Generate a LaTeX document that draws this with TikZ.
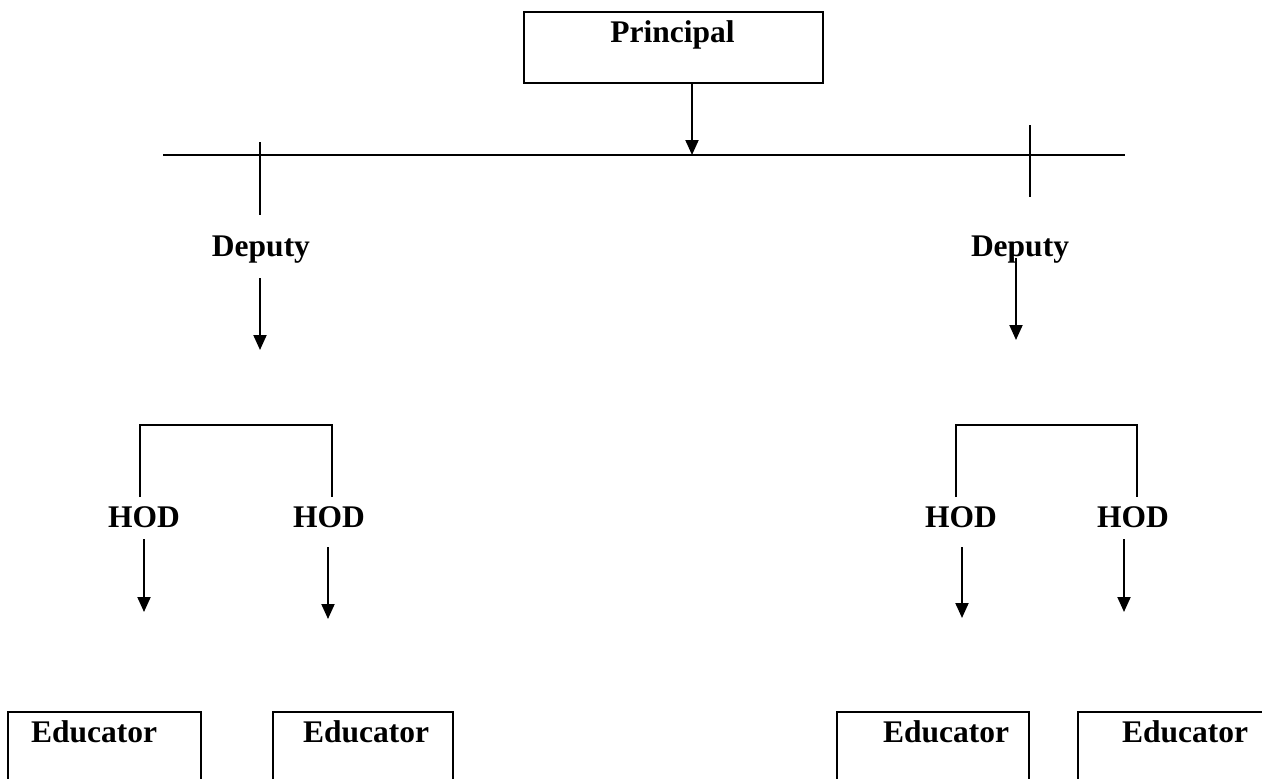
\documentclass[tikz,border=0pt]{standalone}
\usepackage{fontspec}
\setmainfont{Liberation Serif}
\usetikzlibrary{arrows.meta}
\begin{document}
\begin{tikzpicture}[x=1pt,y=-1pt,
  lbl/.style={font=\fontsize{31.5}{36}\selectfont\bfseries, inner sep=0pt, anchor=base},
  lblw/.style={lbl, anchor=base west},
  boxline/.style={line width=2pt},
  thinline/.style={line width=1.5pt},
  arr/.style={line width=2pt, -{Triangle[length=15pt,width=13pt]}},
  ebox/.style={draw, line width=2pt, inner sep=0pt, anchor=north west, minimum height=90pt}]
\useasboundingbox (0,0) rectangle (1262,779);
\clip (0,0) rectangle (1262,779);
% Principal
\node[draw, boxline, inner sep=0pt, anchor=north west, minimum width=299pt, minimum height=71pt] (pbox) at (523,11) {};
\node[lbl] (principal) at (672.5,42) {Principal};
\coordinate (pa) at (692,82);
\coordinate (pb) at (692,155);
\draw[arr] (pa) -- (pb);
% main horizontal line
\coordinate (hl) at (163,155);
\coordinate (hr) at (1125,155);
\draw[thinline] (hl) -- (hr);
% ticks
\coordinate (t1a) at (260,142); \coordinate (t1b) at (260,215);
\coordinate (t2a) at (1030,125); \coordinate (t2b) at (1030,197);
\draw[thinline] (t1a) -- (t1b);
\draw[thinline] (t2a) -- (t2b);
% Deputies
\node[lbl] (dep1) at (261,256) {Deputy};
\node[lbl] (dep2) at (1020,256) {Deputy};
\coordinate (d1a) at (260,278); \coordinate (d1b) at (260,350);
\coordinate (d2a) at (1016,258); \coordinate (d2b) at (1016,340);
\draw[arr] (d1a) -- (d1b);
\draw[arr] (d2a) -- (d2b);
% brackets
\coordinate (b1l) at (140,497); \coordinate (b1r) at (332,497);
\coordinate (b2l) at (956,497); \coordinate (b2r) at (1137,497);
\draw[boxline] (b1l) -- ++(0,-72) -| (b1r);
\draw[boxline] (b2l) -- ++(0,-72) -| (b2r);
% HODs
\node[lbl] (hod1) at (144,527) {HOD};
\node[lbl] (hod2) at (329,527) {HOD};
\node[lbl] (hod3) at (961,527) {HOD};
\node[lbl] (hod4) at (1133,527) {HOD};
\coordinate (h1a) at (144,539); \coordinate (h1b) at (144,612);
\coordinate (h2a) at (328,547); \coordinate (h2b) at (328,619);
\coordinate (h3a) at (962,547); \coordinate (h3b) at (962,618);
\coordinate (h4a) at (1124,539); \coordinate (h4b) at (1124,612);
\draw[arr] (h1a) -- (h1b);
\draw[arr] (h2a) -- (h2b);
\draw[arr] (h3a) -- (h3b);
\draw[arr] (h4a) -- (h4b);
% Educator boxes
\node[ebox, minimum width=193pt] (e1box) at (7,711) {};
\node[ebox, minimum width=180pt] (e2box) at (272,711) {};
\node[ebox, minimum width=192pt] (e3box) at (836,711) {};
\node[ebox, minimum width=210pt] (e4box) at (1077,711) {};
\node[lblw] (e1) at (31,742) {Educator};
\node[lblw] (e2) at (303,742) {Educator};
\node[lblw] (e3) at (883,742) {Educator};
\node[lblw] (e4) at (1122,742) {Educator};
\end{tikzpicture}
\end{document}
